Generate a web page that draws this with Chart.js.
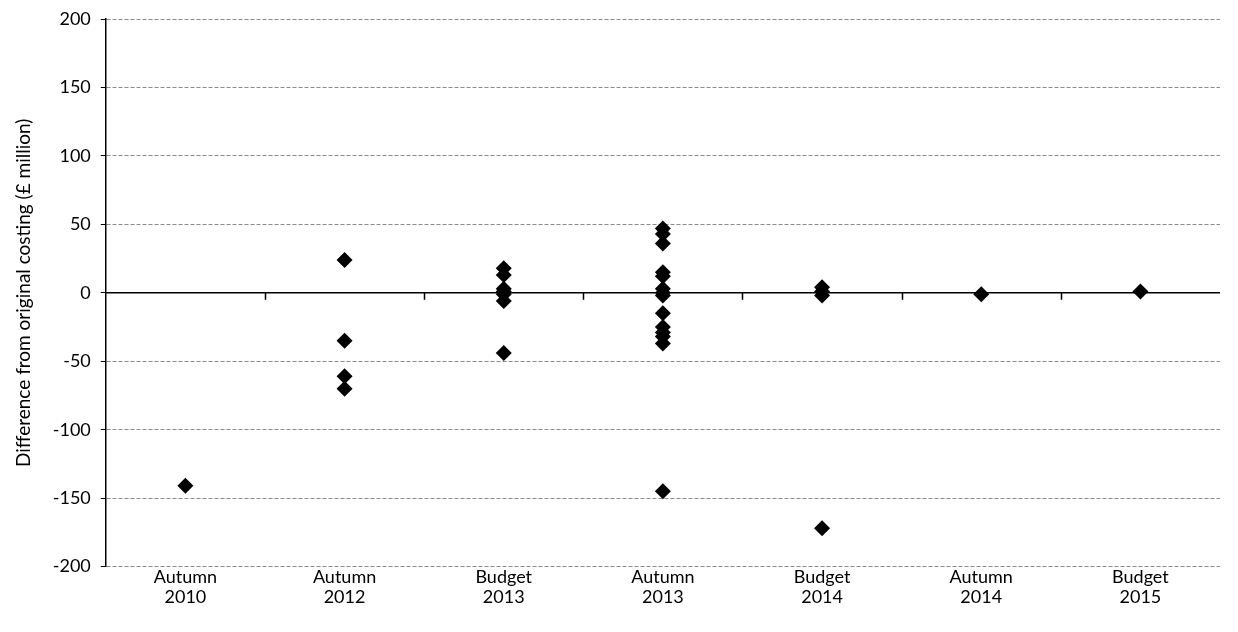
<!DOCTYPE html>
<html>
<head>
<meta charset="utf-8">
<script src="https://cdn.jsdelivr.net/npm/chart.js@4"></script>
<style>
  html, body { margin: 0; padding: 0; background: #fff; }
  #wrap { width: 1238px; height: 632px; }
</style>
</head>
<body>
<div id="wrap"><canvas id="chartCosting"></canvas></div>
<script>
const events = ['Autumn 2010', 'Autumn 2012', 'Budget 2013', 'Autumn 2013', 'Budget 2014', 'Autumn 2014', 'Budget 2015']
const autumn2010 = [-141]
const autumn2012 = [24, -35, -61, -70]
const budget2013 = [18, 13, 3, 1, -1, -6, -44]
const autumn2013 = [47, 43, 36, 15, 12, 3, 0, -2, -15, -25, -29, -32, -37, -145]
const budget2014 = [4, 1, -2, -172]
const autumn2014 = [-1]
const budget2015 = [1]
const yTicks = [-200, -150, -100, -50, 0, 50, 100, 150, 200]

const byEvent = [autumn2010, autumn2012, budget2013, autumn2013, budget2014, autumn2014, budget2015]
var points = []
byEvent.forEach(function (vals, i) {
    vals.forEach(function (v) { points.push({x: i, y: v}) })
})

// black zero axis with tick marks between the categories
const zeroAxis = {
    id: 'zeroAxis',
    beforeDatasetsDraw(chart) {
        const c = chart.ctx, xs = chart.scales.x, ys = chart.scales.y
        const y0 = ys.getPixelForValue(0)
        c.save()
        c.strokeStyle = '#000'
        c.lineWidth = 1.5
        c.beginPath()
        c.moveTo(chart.chartArea.left, y0)
        c.lineTo(chart.chartArea.right, y0)
        for (let i = 0; i < events.length - 1; i++) {
            const xp = Math.round(xs.getPixelForValue(i + 0.5)) + 0.5
            c.moveTo(xp, y0)
            c.lineTo(xp, y0 + 7)
        }
        c.stroke()
        c.restore()
    }
}

var ctx = document.getElementById('chartCosting').getContext('2d');
var chartCosting = new Chart(ctx, {
    type: 'scatter',
    data: {
        datasets: [{
            data: points,
            pointStyle: 'rectRot',
            pointRadius: 8,
            pointHoverRadius: 8,
            backgroundColor: '#000',
            borderColor: '#000',
            borderWidth: 0
        }]
    },
    options: {
        responsive: true,
        maintainAspectRatio: false,
        animation: false,
        layout: { padding: { top: 6, right: 18, bottom: 24, left: 12 } },
        plugins: { legend: { display: false }, tooltip: { enabled: false } },
        scales: {
            x: {
                type: 'linear',
                min: -0.5,
                max: 6.5,
                afterBuildTicks: function (scale) {
                    scale.ticks = events.map(function (_, i) { return {value: i} })
                },
                ticks: {
                    color: '#000',
                    font: { family: 'Lato', size: 18, lineHeight: 1.15 },
                    maxRotation: 0,
                    autoSkip: false,
                    padding: 0,
                    callback: function (v) { return events[v] ? events[v].split(' ') : '' }
                },
                grid: { display: false, drawTicks: false },
                border: { display: false }
            },
            y: {
                min: -200,
                max: 200,
                afterBuildTicks: function (scale) {
                    scale.ticks = yTicks.map(function (v) { return {value: v} })
                },
                ticks: {
                    color: '#000',
                    font: { family: 'Lato', size: 18, lineHeight: 1 },
                    padding: 10
                },
                grid: {
                    color: '#8c8c8c',
                    lineWidth: 1,
                    tickColor: '#000',
                    tickLength: 5,
                    tickBorderDash: []
                },
                border: { display: true, color: '#000', width: 1.5, dash: [4, 2] },
                title: {
                    display: true,
                    text: 'Difference from original costing (£ million)',
                    color: '#000',
                    font: { family: 'Lato', size: 19 },
                    padding: { top: 0, bottom: 8 }
                }
            }
        }
    },
    plugins: [zeroAxis]
});
</script>
</body>
</html>
